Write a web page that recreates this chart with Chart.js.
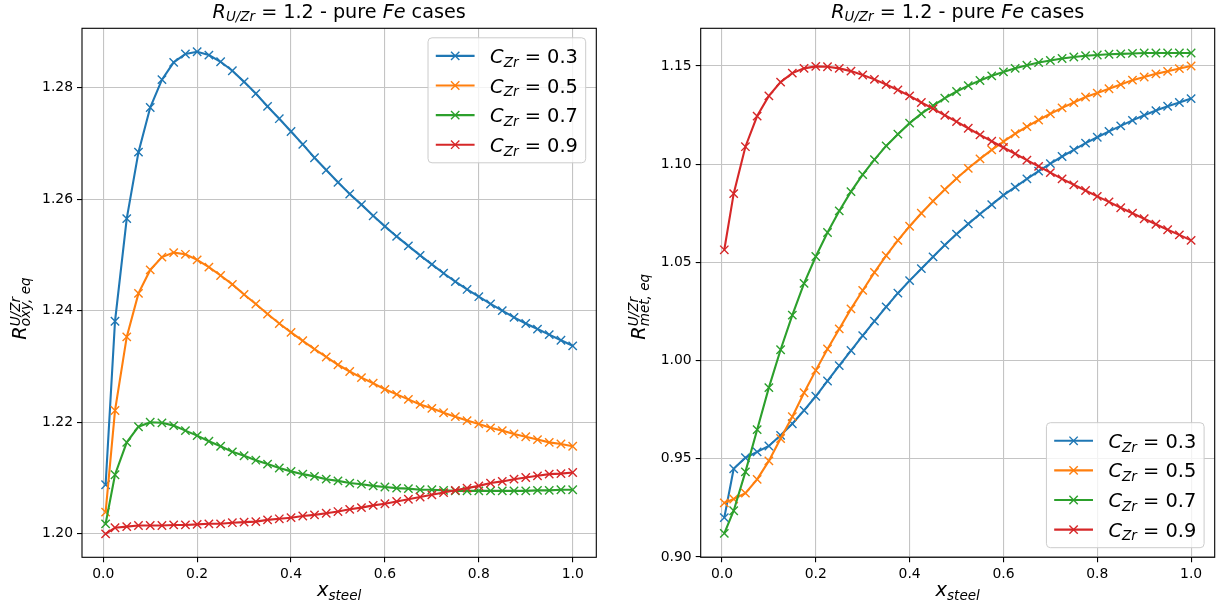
<!DOCTYPE html>
<html>
<head>
<meta charset="utf-8">
<script src="https://cdn.jsdelivr.net/npm/chart.js@4.4.1/dist/chart.umd.min.js"></script>
<style>
  html, body { margin: 0; padding: 0; background: #fff; }
  #wrap { position: relative; width: 1223px; height: 615px; }
  canvas { position: absolute; top: 0; }
  #oxyChart { left: 0; }
  #metChart { left: 612px; }
</style>
</head>
<body>
<div id="wrap">
  <canvas id="oxyChart" width="612" height="615"></canvas>
  <canvas id="metChart" width="611" height="615"></canvas>
</div>
<script>
// steel fraction sampled in the runs
const xSteel = [0.005, 0.025, 0.05, 0.075, 0.1, 0.125, 0.15, 0.175, 0.2, 0.225,
  0.25, 0.275, 0.3, 0.325, 0.35, 0.375, 0.4, 0.425, 0.45, 0.475,
  0.5, 0.525, 0.55, 0.575, 0.6, 0.625, 0.65, 0.675, 0.7, 0.725,
  0.75, 0.775, 0.8, 0.825, 0.85, 0.875, 0.9, 0.925, 0.95, 0.975, 1.0];

const cZr = ["0.3", "0.5", "0.7", "0.9"];

// R_oxy,eq (U/Zr) for each C_Zr
const oxy03 = [1.2088, 1.2381, 1.2565, 1.2684, 1.2764, 1.2814, 1.2845, 1.2860, 1.2864, 1.2858,
  1.2846, 1.2830, 1.2810, 1.2789, 1.2766, 1.2744, 1.2721, 1.2698, 1.2674, 1.2652,
  1.2630, 1.2609, 1.2590, 1.2570, 1.2551, 1.2533, 1.2516, 1.2499, 1.2483, 1.2467,
  1.2452, 1.2438, 1.2425, 1.2412, 1.2400, 1.2388, 1.2377, 1.2367, 1.2357, 1.2347, 1.2337];
const oxy05 = [1.2039, 1.2221, 1.2353, 1.2431, 1.2473, 1.2496, 1.2504, 1.2501, 1.2491, 1.2478,
  1.2463, 1.2447, 1.2429, 1.2412, 1.2394, 1.2377, 1.2361, 1.2346, 1.2331, 1.2317,
  1.2303, 1.2291, 1.2280, 1.2270, 1.2259, 1.2250, 1.2241, 1.2232, 1.2225, 1.2217,
  1.2210, 1.2203, 1.2197, 1.2190, 1.2185, 1.2179, 1.2174, 1.2169, 1.2164, 1.2161, 1.2157];
const oxy07 = [1.2018, 1.2106, 1.2164, 1.2192, 1.2200, 1.2199, 1.2194, 1.2185, 1.2176, 1.2166,
  1.2157, 1.2147, 1.2140, 1.2132, 1.2125, 1.2118, 1.2112, 1.2107, 1.2103, 1.2098,
  1.2095, 1.2091, 1.2089, 1.2086, 1.2084, 1.2082, 1.2081, 1.2079, 1.2079, 1.2078,
  1.2077, 1.2077, 1.2077, 1.2077, 1.2077, 1.2077, 1.2077, 1.2078, 1.2078, 1.2079, 1.2079];
const oxy09 = [1.2000, 1.2011, 1.2013, 1.2015, 1.2015, 1.2015, 1.2016, 1.2016, 1.2017, 1.2018,
  1.2018, 1.2020, 1.2021, 1.2022, 1.2025, 1.2027, 1.2029, 1.2032, 1.2034, 1.2037,
  1.2040, 1.2044, 1.2047, 1.2051, 1.2054, 1.2058, 1.2062, 1.2066, 1.2070, 1.2074,
  1.2078, 1.2082, 1.2086, 1.2091, 1.2094, 1.2098, 1.2101, 1.2104, 1.2107, 1.2108, 1.2110];

// R_met,eq (U/Zr) for each C_Zr
const met03 = [0.9200, 0.9449, 0.9505, 0.9535, 0.9565, 0.9619, 0.9678, 0.9746, 0.9818, 0.9896,
  0.9974, 1.0051, 1.0127, 1.0201, 1.0273, 1.0343, 1.0407, 1.0468, 1.0528, 1.0588,
  1.0644, 1.0696, 1.0746, 1.0794, 1.0842, 1.0883, 1.0925, 1.0965, 1.1003, 1.1039,
  1.1073, 1.1107, 1.1137, 1.1167, 1.1195, 1.1223, 1.1249, 1.1273, 1.1295, 1.1314, 1.1334];
const met05 = [0.9275, 0.9295, 0.9325, 0.9395, 0.9489, 0.9603, 0.9714, 0.9836, 0.9950, 1.0059,
  1.0161, 1.0263, 1.0357, 1.0449, 1.0534, 1.0612, 1.0684, 1.0750, 1.0812, 1.0871,
  1.0927, 1.0979, 1.1027, 1.1073, 1.1115, 1.1155, 1.1191, 1.1225, 1.1257, 1.1287,
  1.1314, 1.1342, 1.1362, 1.1384, 1.1406, 1.1428, 1.1444, 1.1460, 1.1473, 1.1487, 1.1500];
const met07 = [0.9120, 0.9235, 0.9433, 0.9648, 0.9862, 1.0055, 1.0231, 1.0393, 1.0530, 1.0652,
  1.0762, 1.0860, 1.0947, 1.1023, 1.1093, 1.1153, 1.1209, 1.1257, 1.1298, 1.1336,
  1.1370, 1.1400, 1.1426, 1.1450, 1.1470, 1.1488, 1.1504, 1.1518, 1.1528, 1.1538,
  1.1546, 1.1552, 1.1556, 1.1560, 1.1562, 1.1564, 1.1566, 1.1566, 1.1566, 1.1566, 1.1566];
const met09 = [1.0564, 1.0850, 1.1089, 1.1245, 1.1348, 1.1418, 1.1464, 1.1488, 1.1498, 1.1496,
  1.1488, 1.1474, 1.1454, 1.1432, 1.1406, 1.1378, 1.1348, 1.1314, 1.1283, 1.1249,
  1.1217, 1.1183, 1.1149, 1.1117, 1.1085, 1.1053, 1.1021, 1.0989, 1.0957, 1.0925,
  1.0895, 1.0866, 1.0836, 1.0808, 1.0778, 1.0750, 1.0722, 1.0694, 1.0666, 1.0640, 1.0612];

const xTicks = [0, 0.2, 0.4, 0.6, 0.8, 1.0];
const oxyTicks = [1.20, 1.22, 1.24, 1.26, 1.28];
const metTicks = [0.90, 0.95, 1.00, 1.05, 1.10, 1.15];

const colors = ["#1f77b4", "#ff7f0e", "#2ca02c", "#d62728"];
const FONT = '"DejaVu Sans", sans-serif';

// tiny mathtext-ish renderer: base text plus sub/superscripts
function layoutMath(ctx, parts, size) {
  const items = [];
  let x = 0, held = 0;
  for (const p of parts) {
    const small = p.role === "sub" || p.role === "sup";
    const font = (p.it ? "italic " : "") + (small ? size * 0.7 : size) + "px " + FONT;
    ctx.font = font;
    const w = ctx.measureText(p.t).width;
    let dy = 0;
    if (p.role === "sub") dy = size * 0.2;
    if (p.role === "sup") dy = -size * 0.32;
    items.push({ t: p.t, font, x, dy });
    if (p.hold) { held = w; } else { x += Math.max(w, held); held = 0; }
  }
  return { items, width: x };
}

function drawMath(ctx, parts, x, y, size, align) {
  const m = layoutMath(ctx, parts, size);
  let x0 = x;
  if (align === "center") x0 = x - m.width / 2;
  if (align === "right") x0 = x - m.width;
  ctx.textAlign = "left";
  ctx.textBaseline = "alphabetic";
  for (const it of m.items) {
    ctx.font = it.font;
    ctx.fillText(it.t, x0 + it.x, y + it.dy);
  }
  return m.width;
}

const titleParts = [
  { t: "R", it: true }, { t: "U/Zr", it: true, role: "sub" },
  { t: " = 1.2 - pure " }, { t: "Fe", it: true }, { t: " cases" }
];
const xLabelParts = [{ t: "x", it: true }, { t: "steel", it: true, role: "sub" }];

function legendParts(c) {
  return [{ t: "C", it: true }, { t: "Zr", it: true, role: "sub" }, { t: " = " + c }];
}

function yLabel(kind) {
  return [
    { t: "R", it: true },
    { t: "U/Zr", it: true, role: "sup", hold: true },
    { t: kind + ", eq", it: true, role: "sub" }
  ];
}

function makeDatasets(series) {
  return series.map((ys, i) => ({
    label: "C_Zr = " + cZr[i],
    data: ys.map((y, k) => ({ x: xSteel[k], y: y })),
    borderColor: colors[i],
    backgroundColor: colors[i],
    borderWidth: 2.1,
    pointStyle: "crossRot",
    pointRadius: 5.9,
    pointBorderWidth: 1.4,
    pointBorderColor: colors[i],
    tension: 0,
    order: 3 - i,
  }));
}

// titles, axis labels, frame and legend drawn by hand (sub/superscripts)
function decorPlugin(yLabelParts, legendAt) {
  return {
    id: "decor",
    afterDraw(chart) {
      const ctx = chart.ctx;
      const a = chart.chartArea;
      const cx = (a.left + a.right) / 2;
      ctx.save();
      ctx.fillStyle = "#000";
      drawMath(ctx, titleParts, cx, 17.5, 19.2, "center");
      drawMath(ctx, xLabelParts, cx, 596, 19.4, "center");

      ctx.save();
      ctx.translate(a.left - 56, (a.top + a.bottom) / 2);
      ctx.rotate(-Math.PI / 2);
      drawMath(ctx, yLabelParts, -47, 0, 19.4, "left");
      ctx.restore();

      // axes frame
      ctx.strokeStyle = "#000";
      ctx.lineWidth = 1.1;
      ctx.strokeRect(a.left, a.top, a.right - a.left, a.bottom - a.top);

      // legend
      const fs = 19.4;
      const pad = 0.4 * fs, handle = 2 * fs, gap = 0.8 * fs;
      let tw = 0;
      cZr.forEach(c => { tw = Math.max(tw, layoutMath(ctx, legendParts(c), fs).width); });
      const w = pad * 2 + handle + gap + tw;
      const h = 125;
      const right = a.right - 10.6;
      const top = legendAt === "upper" ? a.top + 9.5 : a.bottom - 9.6 - h;
      const left = right - w;
      ctx.beginPath();
      ctx.roundRect(left, top, w, h, 4);
      ctx.fillStyle = "rgba(255,255,255,0.8)";
      ctx.fill();
      ctx.strokeStyle = "#cccccc";
      ctx.lineWidth = 1;
      ctx.stroke();
      const pitch = 29.6;
      cZr.forEach((c, i) => {
        const cy = top + h / 2 + (i - 1.5) * pitch;
        const hx = left + pad;
        ctx.strokeStyle = colors[i];
        ctx.lineWidth = 2.1;
        ctx.beginPath();
        ctx.moveTo(hx, cy);
        ctx.lineTo(hx + handle, cy);
        ctx.stroke();
        ctx.lineWidth = 1.4;
        Chart.helpers.drawPoint(ctx, { pointStyle: "crossRot", radius: 5.9, rotation: 0, borderWidth: 1.4 }, hx + handle / 2, cy);
        ctx.fillStyle = "#000";
        drawMath(ctx, legendParts(c), hx + handle + gap, cy + 7, fs, "left");
      });
      ctx.restore();
    }
  };
}

function makeChart(id, series, yMin, yMax, yTickVals, yLabelParts, legendAt, yWidth, padRight) {
  const ctx = document.getElementById(id).getContext("2d");
  const grid = { color: "#c4c4c4", lineWidth: 1.1, tickColor: "#000", tickLength: 5, tickWidth: 1.1 };
  return new Chart(ctx, {
    type: "line",
    data: { datasets: makeDatasets(series) },
    options: {
      responsive: false,
      animation: false,
      events: [],
      layout: { padding: { left: 0, top: 28.3, right: padRight, bottom: 0 } },
      plugins: { legend: { display: false }, title: { display: false }, tooltip: { enabled: false } },
      scales: {
        x: {
          type: "linear",
          min: -0.0453,
          max: 1.0503,
          afterBuildTicks: (s) => { s.ticks = xTicks.map(v => ({ value: v })); },
          afterFit: (s) => { s.height = 57.7; },
          border: { display: false },
          grid: grid,
          ticks: {
            color: "#000", padding: 4, maxRotation: 0,
            font: { family: FONT, size: 13.9 },
            callback: (v) => Number(v).toFixed(1),
          },
        },
        y: {
          type: "linear",
          min: yMin,
          max: yMax,
          afterBuildTicks: (s) => { s.ticks = yTickVals.map(v => ({ value: v })); },
          afterFit: (s) => { s.width = yWidth; },
          border: { display: false },
          grid: grid,
          ticks: {
            color: "#000", padding: 4,
            font: { family: FONT, size: 13.9 },
            callback: (v) => Number(v).toFixed(2),
          },
        },
      },
    },
    plugins: [decorPlugin(yLabelParts, legendAt)],
  });
}

makeChart("oxyChart", [oxy03, oxy05, oxy07, oxy09], 1.1958, 1.2906, oxyTicks,
  yLabel("oxy"), "upper", 82, 15.7);

makeChart("metChart", [met03, met05, met07, met09], 0.8998, 1.1692, metTicks,
  yLabel("met"), "lower", 88.7, 8.3);
</script>
</body>
</html>
